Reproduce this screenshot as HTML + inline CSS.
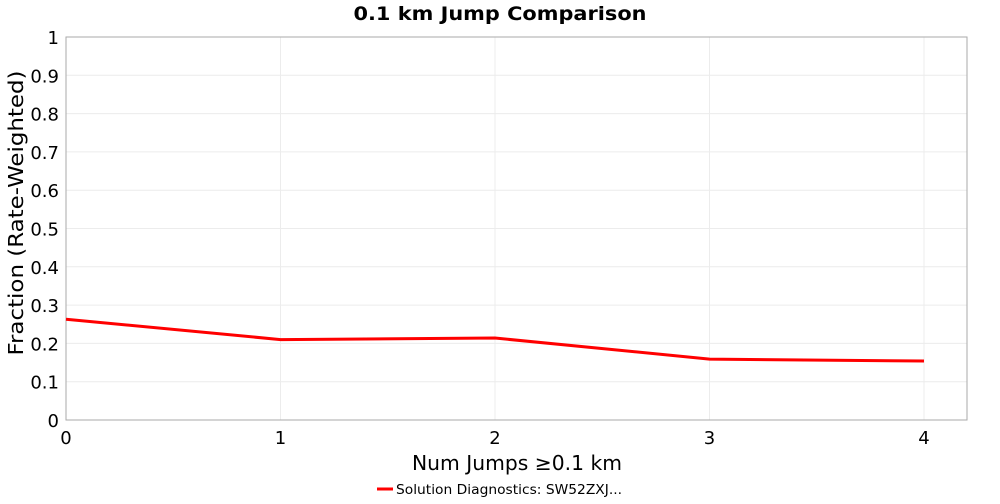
<!DOCTYPE html>
<html><head><meta charset="utf-8"><style>
body{margin:0;background:#fff;font-family:"DejaVu Sans","Liberation Sans",sans-serif}
svg text{font-family:"DejaVu Sans","Liberation Sans",sans-serif}
</style></head><body>
<svg width="1000" height="500">
<text x="500" y="20" text-anchor="middle" font-size="19" font-weight="bold" textLength="293" lengthAdjust="spacingAndGlyphs">0.1 km Jump Comparison</text>
<g id="grid"></g>
<rect x="66" y="37" width="901" height="383" fill="none" stroke="#aaa"/>
<g id="yt"></g>
<g id="xt"></g>
<polyline id="line" fill="none" stroke="#ff0000" stroke-width="3"/>
<text x="517" y="470" text-anchor="middle" font-size="20" textLength="210" lengthAdjust="spacingAndGlyphs">Num Jumps ≥0.1 km</text>
<text transform="translate(23,213) rotate(-90)" text-anchor="middle" font-size="20" textLength="285" lengthAdjust="spacingAndGlyphs">Fraction (Rate-Weighted)</text>
<g>
<line x1="377" y1="489" x2="393" y2="489" stroke="#ff0000" stroke-width="3"/>
<text x="396" y="494" font-size="13" textLength="226" lengthAdjust="spacingAndGlyphs">Solution Diagnostics: SW52ZXJ...</text>
</g>
</svg>
<script>
const categories=[0,1,2,3,4];
const values=[0.263,0.210,0.214,0.159,0.154];
const yTicks=[0,0.1,0.2,0.3,0.4,0.5,0.6,0.7,0.8,0.9,1];
const yTickLabels=["0","0.1","0.2","0.3","0.4","0.5","0.6","0.7","0.8","0.9","1"];
const NS="http://www.w3.org/2000/svg";
const xs=v=>66+v*(924-66)/4, ys=v=>420-v*383;
const grid=document.getElementById('grid'),yt=document.getElementById('yt'),xt=document.getElementById('xt');
yTicks.forEach((t,i)=>{
 const l=document.createElementNS(NS,'line');
 
 
 l.setAttribute('x1',66);l.setAttribute('x2',967);l.setAttribute('y1',ys(t));l.setAttribute('y2',ys(t));l.setAttribute('stroke','#ececec');grid.appendChild(l);
 const tx=document.createElementNS(NS,'text');
 
 
 tx.setAttribute('x',59);tx.setAttribute('y',ys(t)+7);tx.setAttribute('text-anchor','end');tx.setAttribute('font-size','18');tx.textContent=yTickLabels[i];yt.appendChild(tx);
});
categories.forEach(c=>{
 const l=document.createElementNS(NS,'line');
 
 
 l.setAttribute('x1',xs(c));l.setAttribute('x2',xs(c));l.setAttribute('y1',37);l.setAttribute('y2',420);l.setAttribute('stroke','#ececec');grid.appendChild(l);
 const tx=document.createElementNS(NS,'text');
 
 
 tx.setAttribute('x',xs(c));tx.setAttribute('y',444);tx.setAttribute('text-anchor','middle');tx.setAttribute('font-size','18');tx.textContent=String(c);xt.appendChild(tx);
});
document.getElementById('line').setAttribute('points',categories.map((c,i)=>xs(c)+','+ys(values[i])).join(' '));
</script>
</body></html>
